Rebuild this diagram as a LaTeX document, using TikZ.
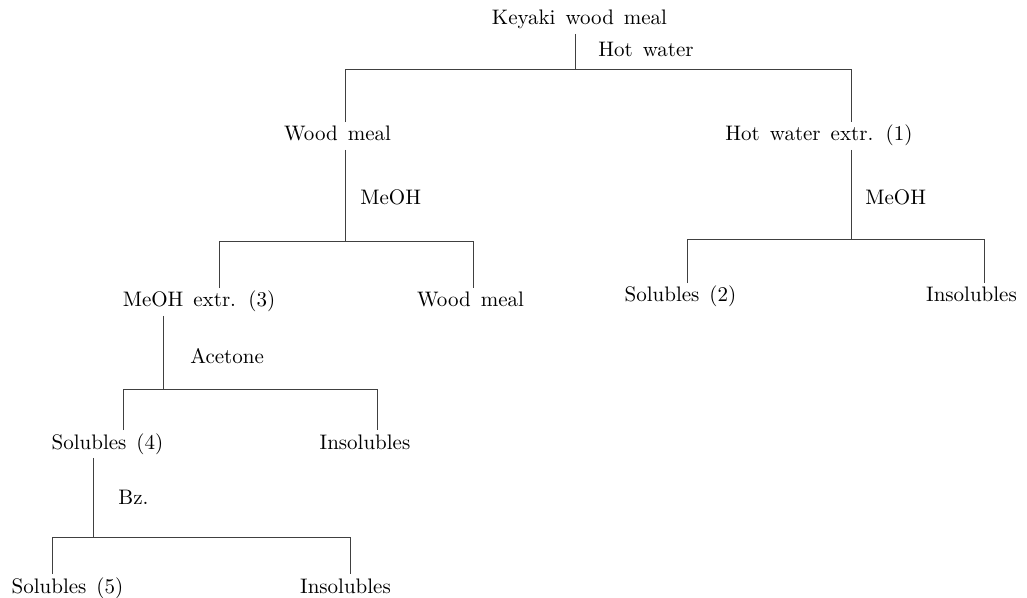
\documentclass[tikz,border=0pt]{standalone}
\usepackage{tikz}
\usetikzlibrary{positioning}
\newcommand{\samplefont}{\fontsize{10.5}{12}\selectfont\spaceskip=5pt plus 1pt\relax}
\tikzset{
    sample/.style={anchor=base, inner sep=1.75pt, text height=7.5pt, text depth=2.5pt,
        font=\samplefont},
    reagent/.style={anchor=base west, inner sep=0pt, font=\samplefont},
    link/.style={line width=0.5pt, black!75}
}

\begin{document}
\begin{tikzpicture}[x=0.5pt, y=-0.5pt]
    \useasboundingbox (0,0) rectangle (1027,598);

    % samples
    \node[sample] (keyaki) at (579.5, 25) {Keyaki wood meal};
    \node[sample] (meal1) at (337.5, 141) {Wood meal};
    \node[sample] (hotx) at (819, 141) {Hot water extr. (1)};
    \node[sample] (ext3) at (199, 307) {MeOH extr. (3)};
    \node[sample] (meal2) at (470.5, 307) {Wood meal};
    \node[sample] (sol2) at (680.5, 302) {Solubles (2)};
    \node[sample] (insol2) at (971.5, 302) {Insolubles};
    \node[sample] (sol4) at (107.5, 449) {Solubles (4)};
    \node[sample] (insol4) at (365, 449) {Insolubles};
    \node[sample] (sol5) at (67.5, 593) {Solubles (5)};
    \node[sample] (insol5) at (345.5, 593) {Insolubles};

    % solvents
    \node[reagent] (water) at (598, 57) {Hot water};
    \node[reagent] (meoh1) at (360, 205) {MeOH};
    \node[reagent] (meoh2) at (865, 205) {MeOH};
    \node[reagent] (acetone) at (190, 364) {Acetone};
    \node[reagent] (bz) at (118, 504) {Bz.};

    % junctions
    \coordinate (j0) at (575, 70);
    \coordinate (j0l) at (345, 70);
    \coordinate (j0r) at (851, 70);
    \coordinate (j1) at (345, 242);
    \coordinate (j1l) at (219, 242);
    \coordinate (j1r) at (473, 242);
    \coordinate (j2) at (851, 240);
    \coordinate (j2l) at (687, 240);
    \coordinate (j2r) at (984, 240);
    \coordinate (j3) at (163, 389);
    \coordinate (j3l) at (123, 389);
    \coordinate (j3r) at (377, 389);
    \coordinate (j4) at (93, 537);
    \coordinate (j4l) at (52, 537);
    \coordinate (j4r) at (350, 537);

    \draw[link] (keyaki.south -| j0) -- (j0);
    \draw[link] (meal1.north -| j0l) -- (j0l) -- (j0r) -- (hotx.north -| j0r);

    \draw[link] (meal1.south -| j1) -- (j1);
    \draw[link] (ext3.north -| j1l) -- (j1l) -- (j1r) -- (meal2.north -| j1r);

    \draw[link] (hotx.south -| j2) -- (j2);
    \draw[link] (sol2.north -| j2l) -- (j2l) -- (j2r) -- (insol2.north -| j2r);

    \draw[link] (ext3.south -| j3) -- (j3);
    \draw[link] (sol4.north -| j3l) -- (j3l) -- (j3r) -- (insol4.north -| j3r);

    \draw[link] (sol4.south -| j4) -- (j4);
    \draw[link] (sol5.north -| j4l) -- (j4l) -- (j4r) -- (insol5.north -| j4r);
\end{tikzpicture}
\end{document}
